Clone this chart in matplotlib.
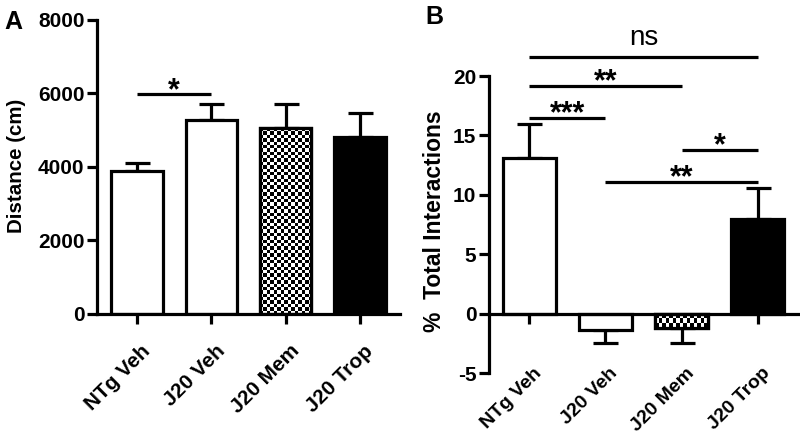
import matplotlib.pyplot as plt
import numpy as np

plt.rcParams['font.family'] = ['Liberation Sans', 'DejaVu Sans']
plt.rcParams['axes.unicode_minus'] = False

groups = ['NTg Veh', 'J20 Veh', 'J20 Mem', 'J20 Trop']
fills = ['white', 'white', 'checker', 'black']

# panel A: distance travelled
dist_mean = [3890, 5270, 5060, 4810]
dist_sem = [220, 440, 640, 670]

# panel B: % total interactions
inter_mean = [13.1, -1.4, -1.2, 8.0]
inter_sem = [2.9, 1.1, 1.3, 2.6]

# significance bars: (from group, to group, y, label)
sig_a = [(0, 1, 5980, '*')]
sig_b = [(0, 3, 21.6, 'ns'), (0, 2, 19.2, '**'), (0, 1, 16.5, '***'),
         (2, 3, 13.8, '*'), (1, 3, 11.1, '**')]

LW = 2.3
x = np.arange(len(groups))
W = 0.69


def checker(ax, bar, nx, ny):
    x0, w = bar.get_x(), bar.get_width()
    y0, y1 = sorted([bar.get_y(), bar.get_y() + bar.get_height()])
    grid = np.add.outer(np.arange(ny), np.arange(nx)) % 2
    im = ax.imshow(grid, cmap='gray', extent=(x0, x0 + w, y0, y1), aspect='auto',
                   interpolation='nearest', zorder=2.1)
    im.set_clip_path(bar)


def draw_panel(ax, means, sems, cells):
    lower = [s if m < 0 else 0 for m, s in zip(means, sems)]
    upper = [s if m >= 0 else 0 for m, s in zip(means, sems)]
    ax.errorbar(x, means, yerr=[lower, upper], fmt='none', ecolor='black',
                elinewidth=LW, capsize=9, capthick=LW, zorder=1)
    bars = ax.bar(x, means, W, color=['black' if f == 'black' else 'white' for f in fills],
                  edgecolor='black', linewidth=LW, zorder=2)
    for b, f in zip(bars, fills):
        if f == 'checker':
            checker(ax, b, *cells)
            ax.bar(b.get_x() + b.get_width() / 2, b.get_height(), W, fill=False,
                   edgecolor='black', linewidth=LW, zorder=2.2)
    for s in ['top', 'right']:
        ax.spines[s].set_visible(False)
    for s in ['left', 'bottom']:
        ax.spines[s].set_linewidth(LW)
    ax.tick_params(axis='both', width=LW, length=7, direction='out', labelsize=15, pad=2)
    ax.tick_params(axis='x', labelbottom=False)
    ax.set_xticks(x)


def draw_sig(ax, sig, dy_star, dy_ns):
    for a, b, y, lab in sig:
        ax.plot([a, b], [y, y], color='black', lw=LW, clip_on=False, solid_capstyle='butt')
        if lab == 'ns':
            ax.text((a + b) / 2, y + dy_ns, lab, ha='center', va='baseline', fontsize=20)
        else:
            ax.text((a + b) / 2, y + dy_star, lab, ha='center', va='baseline',
                    fontsize=22, fontweight='bold')


fig = plt.figure(figsize=(8, 4.37), dpi=100)

axA = fig.add_axes([0.12125, 0.2815, 0.37875, 0.6728])
draw_panel(axA, dist_mean, dist_sem, (15, 55))
axA.set_xlim(-0.54, 3.54)
axA.set_ylim(0, 8000)
axA.set_yticks([0, 2000, 4000, 6000, 8000])
for i, g in enumerate(groups):
    axA.text(i + 0.05, -0.093, g, transform=axA.get_xaxis_transform(), rotation=45,
             rotation_mode='anchor', ha='right', va='top', fontsize=15, fontweight='bold')
draw_sig(axA, sig_a, -125, 0)

axB = fig.add_axes([0.61125, 0.14645, 0.389, 0.6796])
draw_panel(axB, inter_mean, inter_sem, (15, 3))
axB.set_xlim(-0.53, 3.56)
axB.set_ylim(-5, 20)
axB.set_yticks([-5, 0, 5, 10, 15, 20])
axB.spines['bottom'].set_position(('data', 0))
for i, g in enumerate(groups):
    axB.text(i + 0.05, -4.3, g, rotation=45, rotation_mode='anchor',
             ha='right', va='top', fontsize=14, fontweight='bold')
draw_sig(axB, sig_b, -0.38, 1.0)

for ax in [axA, axB]:
    for t in ax.get_yticklabels():
        t.set_fontweight('bold')

fig.text(0.021, 1 - 165.5 / 437, 'Distance (cm)', rotation=90, ha='center', va='center',
         fontsize=14.8, fontweight='bold')
fig.text(0.543, 1 - 221.5 / 437, '%  Total Interactions', rotation=90, ha='center', va='center',
         fontsize=16.5, fontweight='bold')
fig.text(0.005, 0.95, 'A', fontsize=18, fontweight='bold', va='center')
fig.text(0.532, 0.962, 'B', fontsize=18, fontweight='bold', va='center')

fig.savefig('out.png', dpi=100)
